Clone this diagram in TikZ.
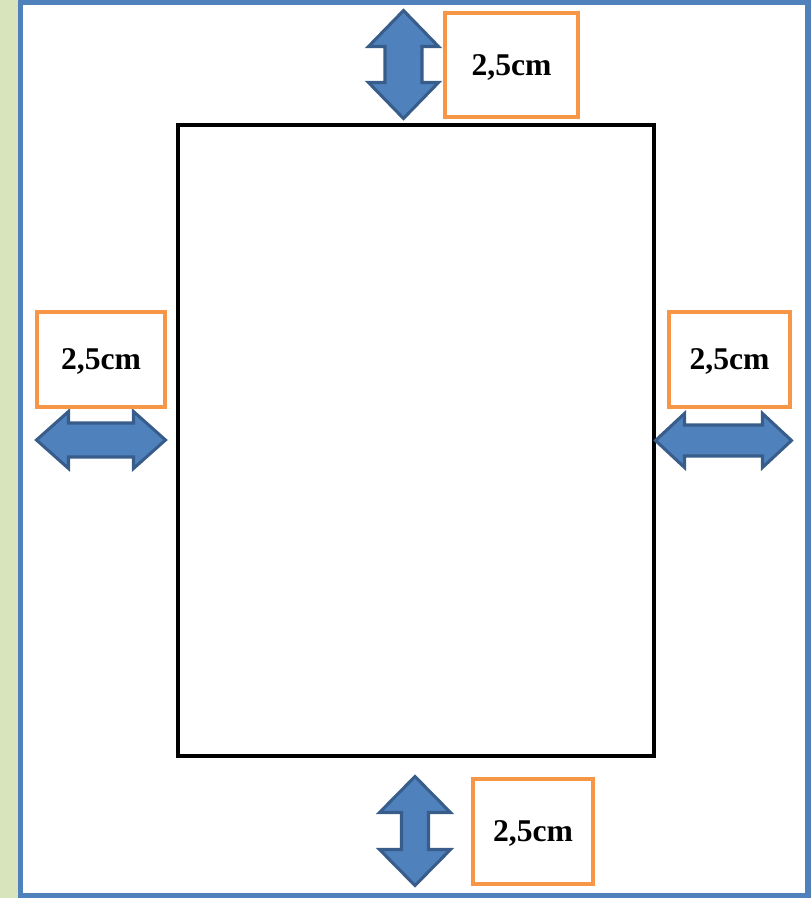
\documentclass[tikz,border=0pt]{standalone}
\usepackage{fontspec}
\setmainfont{Liberation Serif}
\usetikzlibrary{positioning}
\definecolor{frameblue}{RGB}{79,129,189}
\definecolor{arrowedge}{RGB}{56,93,138}
\definecolor{gaporange}{RGB}{247,150,70}
\definecolor{stripgreen}{RGB}{216,228,188}

% vertical double arrow: cx, top, bottom, head half width, shaft half width, head length
\newcommand{\vgaparrow}[6]{%
  \draw[gaparrow] (#1,#2) -- ({#1+#4},{#2+#6}) -- ({#1+#5},{#2+#6}) -- ({#1+#5},{#3-#6})
    -- ({#1+#4},{#3-#6}) -- (#1,#3) -- ({#1-#4},{#3-#6}) -- ({#1-#5},{#3-#6})
    -- ({#1-#5},{#2+#6}) -- ({#1-#4},{#2+#6}) -- cycle;}
% horizontal double arrow: cy, left, right, head half height, shaft half height, head length
\newcommand{\hgaparrow}[6]{%
  \draw[gaparrow] (#2,#1) -- ({#2+#6},{#1-#4}) -- ({#2+#6},{#1-#5}) -- ({#3-#6},{#1-#5})
    -- ({#3-#6},{#1-#4}) -- (#3,#1) -- ({#3-#6},{#1+#4}) -- ({#3-#6},{#1+#5})
    -- ({#2+#6},{#1+#5}) -- ({#2+#6},{#1+#4}) -- cycle;}

\begin{document}
\begin{tikzpicture}[
    x=0.03cm, y=-0.03cm,
    gapbox/.style={
        draw=gaporange,
        line width=3.4pt,
        fill=white,
        minimum height=2.85cm,
        inner sep=0pt,
        text depth=0pt,
        align=center,
        font=\fontsize{27}{32}\selectfont\bfseries
    },
    gaparrow/.style={
        draw=arrowedge,
        fill=frameblue,
        line width=2.6pt,
        line join=miter
    }
]
\useasboundingbox (0,0) rectangle (811,898);

% page and margins
\fill[stripgreen] (0,0) rectangle (18,898);
\draw[frameblue, line width=4.3pt] (20.5,2.5) rectangle (808,895.5);
\draw[black, line width=3.6pt] (178,125) rectangle (654,756);

% arrows
\vgaparrow{403.5}{10.5}{118.5}{35}{18.5}{36}
\vgaparrow{415}{776.5}{885.5}{35.5}{13.5}{36}
\hgaparrow{440}{36.5}{165.5}{28.5}{17}{32}
\hgaparrow{440.5}{655.5}{791.5}{27}{15.5}{29}

% labels
\node[gapbox, minimum width=3.99cm, minimum height=3.12cm] (topgap) at (511.5,65) {2,5cm};
\node[gapbox, minimum width=3.84cm] (leftgap) at (101,359.5) {2,5cm};
\node[gapbox, minimum width=3.63cm] (rightgap) at (729.5,359.5) {2,5cm};
\node[gapbox, minimum width=3.6cm, minimum height=3.15cm] (bottomgap) at (533,831.5) {2,5cm};

\end{tikzpicture}
\end{document}
